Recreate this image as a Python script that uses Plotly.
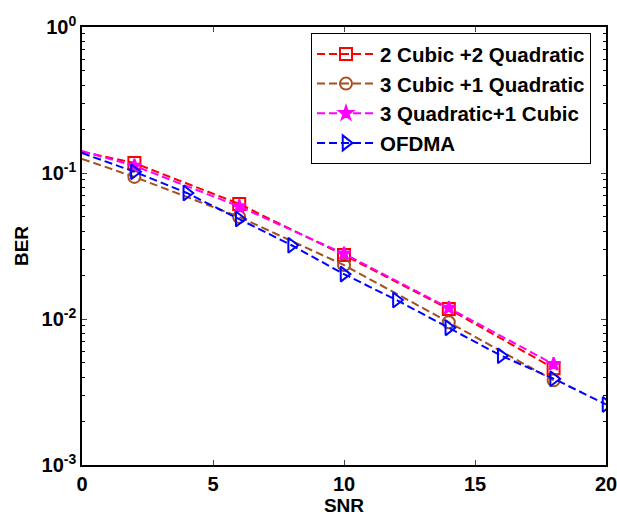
import plotly.graph_objects as go

# SNR positions of the line data
snr_a = [0, 2, 6, 10, 14, 18]
snr_ofdma = [0, 2, 4, 6, 8, 10, 12, 14, 16, 18, 20]

ber_2c2q = [0.140, 0.117, 0.0614, 0.0274, 0.0117, 0.0046]
ber_3c1q = [0.125, 0.094, 0.050, 0.0234, 0.0095, 0.0038]
ber_3q1c = [0.1415, 0.112, 0.059, 0.028, 0.0119, 0.0049]
ber_ofdma = [0.137, 0.102, 0.073, 0.0484, 0.032, 0.0203, 0.0135, 0.0087, 0.0056, 0.0039, 0.0026]

names = ["2 Cubic +2 Quadratic", "3 Cubic +1 Quadratic", "3 Quadratic+1 Cubic", "OFDMA"]
colors = ["#ff0000", "#a5501e", "#ff00ff", "#0000ff"]
symbols = ["square-open", "circle-open", "star", "triangle-right-open"]
msizes = [12, 12, 10, 13]

series = [(snr_a, ber_2c2q), (snr_a, ber_3c1q), (snr_a, ber_3q1c), (snr_ofdma, ber_ofdma)]

FAM = "Liberation Sans, Arial, sans-serif"
fig = go.Figure()
dash = "8px,4px"
for i, ((x, y), name, c, s, ms) in enumerate(zip(series, names, colors, symbols, msizes)):
    fig.add_trace(go.Scatter(x=x, y=y, mode="lines", line=dict(color=c, width=2, dash=dash),
                             showlegend=False, hoverinfo="skip"))
    fig.add_trace(go.Scatter(x=x[1:], y=y[1:], mode="markers",
                             marker=dict(symbol=s, size=ms, color=c, line=dict(color=c, width=2)),
                             showlegend=False))
    fig.add_trace(go.Scatter(x=[None], y=[None], mode="lines+markers", name=name,
                             line=dict(color=c, width=2, dash=dash),
                             marker=dict(symbol=s, size=ms, color=c, line=dict(color=c, width=2))))

yt_vals = [1e-3, 1e-2, 1e-1, 1]
yt_text = ["10<sup>-3</sup>", "10<sup>-2</sup>", "10<sup>-1</sup>", "10<sup>0</sup>"]
minor_vals = [m * 10 ** e for e in (-3, -2, -1) for m in range(2, 10)]

tickfont = dict(family=FAM, size=20, color="black", weight="bold")

fig.update_layout(
    width=617, height=517,
    margin=dict(l=82, r=11, t=27, b=52),
    plot_bgcolor="white", paper_bgcolor="white",
    font=dict(family=FAM, size=17, color="black"),
    showlegend=True,
    legend=dict(x=0.437, y=0.986, xanchor="left", yanchor="top",
                bgcolor="white", bordercolor="black", borderwidth=1,
                font=dict(family=FAM, size=20.5, color="black", weight="bold"),
                itemwidth=58),
    xaxis=dict(range=[0, 20], tickvals=[0, 5, 10, 15, 20], ticks="inside", ticklen=5,
               showline=True, linecolor="black", linewidth=1.5, mirror="ticks",
               showgrid=False, zeroline=False, tickfont=tickfont, automargin=False,
               ticklabeloverflow="allow",
               title=dict(text="SNR", standoff=2,
                          font=dict(family=FAM, size=19, color="black", weight="bold"))),
    yaxis=dict(type="log", range=[-3, 0], tickvals=yt_vals, ticktext=yt_text,
               ticks="inside", ticklen=5, automargin=False, ticklabeloverflow="allow",
               minor=dict(tickvals=minor_vals, ticks="inside", ticklen=3, tickcolor="black", showgrid=False),
               showline=True, linecolor="black", linewidth=1.5, mirror="ticks",
               showgrid=False, zeroline=False, tickfont=tickfont,
               title=dict(text="BER", standoff=8,
                          font=dict(family=FAM, size=19, color="black", weight="bold"))),
)

fig.write_html("out.html", post_script="document.body.style.margin='0px';",
               config={"displayModeBar": False})
